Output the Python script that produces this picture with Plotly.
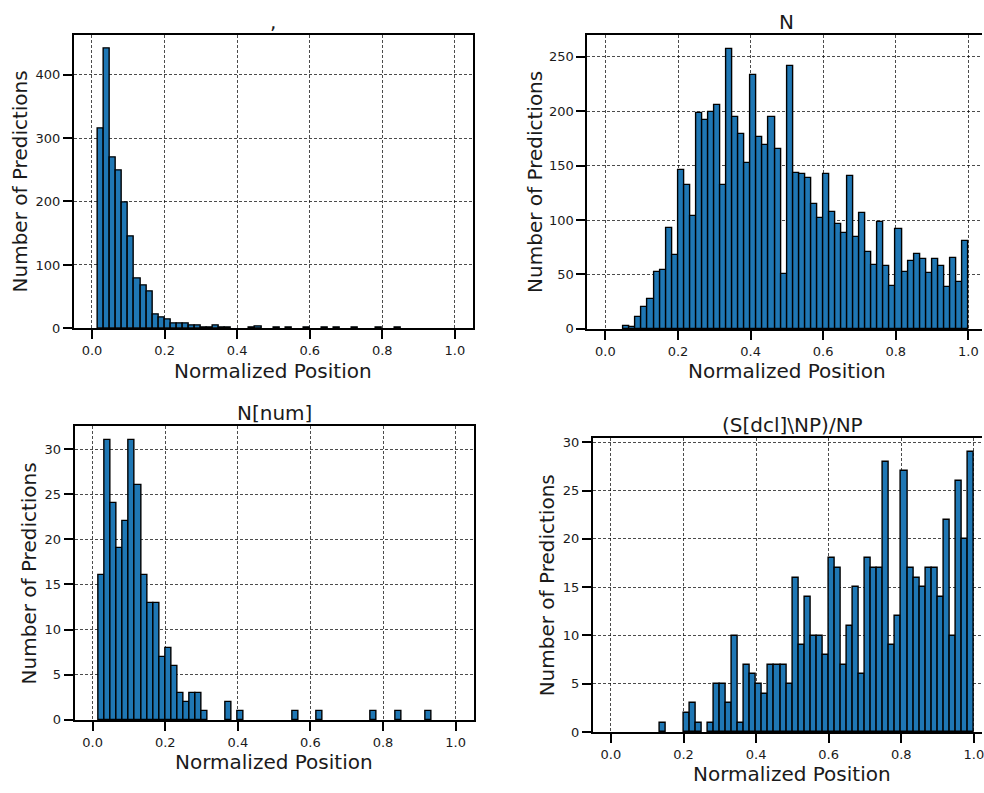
import numpy as np
import plotly.graph_objects as go

# ---------------- data (counts per bin, 60 equal bins on [0, 1]) ----------------
n_bins = 60
bin_edges = np.linspace(0.0, 1.0, n_bins + 1)

titles = [",", "N", "N[num]", "(S[dcl]\\NP)/NP"]

comma_counts = [0, 315, 441, 269, 248, 198, 144, 78, 68, 58,
                22, 17, 14, 7, 7, 7, 4, 4, 2, 2,
                4, 1, 1, 0, 0, 0, 2, 3, 0, 0,
                1, 0, 1, 0, 0, 1, 0, 0, 2, 0,
                1, 0, 0, 1, 0, 0, 0, 1, 0, 0,
                1, 0, 0, 0, 0, 0, 0, 0, 0, 0]

n_counts = [0, 0, 0, 3, 2, 11, 20, 27, 52, 54,
            93, 68, 146, 132, 104, 198, 192, 199, 206, 132,
            257, 195, 179, 152, 233, 176, 169, 195, 165, 50,
            241, 143, 142, 139, 115, 102, 142, 107, 96, 88,
            140, 84, 106, 71, 59, 98, 58, 39, 92, 52,
            62, 69, 64, 51, 64, 58, 38, 65, 43, 81]

nnum_counts = [0, 16, 31, 24, 19, 22, 31, 26, 16, 13,
               13, 7, 8, 6, 3, 2, 3, 3, 1, 0,
               0, 0, 2, 0, 1, 0, 0, 0, 0, 0,
               0, 0, 0, 1, 0, 0, 0, 1, 0, 0,
               0, 0, 0, 0, 0, 0, 1, 0, 0, 0,
               1, 0, 0, 0, 0, 1, 0, 0, 0, 0]

sdcl_counts = [0, 0, 0, 0, 0, 0, 0, 0, 1, 0,
               0, 0, 2, 3, 1, 0, 1, 5, 5, 3,
               10, 1, 7, 6, 5, 4, 7, 7, 7, 5,
               16, 9, 14, 10, 10, 8, 18, 17, 7, 11,
               15, 6, 18, 17, 17, 28, 9, 12, 27, 17,
               16, 15, 17, 17, 14, 22, 10, 26, 20, 29]

x_tick_vals = [0.0, 0.2, 0.4, 0.6, 0.8, 1.0]
y_dticks = [100, 50, 5, 5]

x_label = "Normalized Position"
y_label = "Number of Predictions"

# ---------------- layout geometry (pixels) ----------------
W, H = 984, 793
PX_PER_UNIT = 400 / 1.1
panels = [
    dict(left=74.0, right=474.0, top=32.0, bottom=330.0, ylab_x=21.0),
    dict(left=588.5, right=984.0, top=32.5, bottom=330.5, ylab_x=536.0),
    dict(left=74.7, right=474.7, top=429.0, bottom=727.0, ylab_x=29.5),
    dict(left=594.0, right=984.0, top=441.0, bottom=739.3, ylab_x=548.5),
]
all_counts = [comma_counts, n_counts, nnum_counts, sdcl_counts]

def fx(p):
    return p / W

def fy(p):
    return 1 - p / H

centers = (bin_edges[:-1] + bin_edges[1:]) / 2
width = bin_edges[1] - bin_edges[0]

TEXT = "#1a1a1a"
FONT = "DejaVu Sans"

fig = go.Figure()
annotations = []
layout = dict(
    width=W, height=H,
    margin=dict(l=0, r=0, t=0, b=0),
    paper_bgcolor="white", plot_bgcolor="white",
    showlegend=False, bargap=0,
    font=dict(family=FONT, color=TEXT),
)

for i, (p, counts) in enumerate(zip(panels, all_counts)):
    k = "" if i == 0 else str(i + 1)
    shown = [c if c > 0 else None for c in counts]
    fig.add_trace(go.Bar(
        x=centers, y=shown, width=width,
        marker=dict(color="#1f77b4", line=dict(color="black", width=1.4)),
        xaxis="x" + k, yaxis="y" + k, hoverinfo="x+y",
    ))
    xmax = -0.05 + (p["right"] - p["left"]) / PX_PER_UNIT
    ymax = max(counts) * 1.05
    cut = p["right"] >= W
    common = dict(
        showline=True, linecolor="black", linewidth=2,
        ticks="outside", ticklen=9, tickwidth=2, tickcolor="black",
        tickfont=dict(size=13, color=TEXT, family=FONT),
        showgrid=True, gridcolor="rgba(0,0,0,0.7)", gridwidth=0.6,
        griddash="3px,2px", zeroline=False,
    )
    layout["xaxis" + k] = dict(
        common, domain=[fx(p["left"]), fx(p["right"])],
        range=[-0.05, xmax], anchor="y" + k,
        tickvals=x_tick_vals, tickformat=".1f", mirror=True,
        ticklabeloverflow="allow",
    )
    layout["yaxis" + k] = dict(
        common, domain=[fy(p["bottom"]), fy(p["top"])],
        range=[0, ymax], anchor="x" + k,
        dtick=y_dticks[i], tick0=0, tickformat="d",
        mirror=(not cut),
    )
    cx = (p["left"] + p["left"] + 400) / 2
    annotations.append(dict(
        text=titles[i], x=fx(cx), y=fy(p["top"] - 13), xref="paper", yref="paper",
        showarrow=False, xanchor="center", yanchor="middle",
        font=dict(size=20, color=TEXT, family=FONT),
    ))
    annotations.append(dict(
        text=x_label, x=fx(cx), y=fy(p["bottom"] + 43), xref="paper", yref="paper",
        showarrow=False, xanchor="center", yanchor="middle",
        font=dict(size=20, color=TEXT, family=FONT),
    ))
    annotations.append(dict(
        text=y_label, x=fx(p["ylab_x"]), y=fy((p["top"] + p["bottom"]) / 2),
        xref="paper", yref="paper", textangle=-90,
        showarrow=False, xanchor="center", yanchor="middle",
        font=dict(size=20, color=TEXT, family=FONT),
    ))

layout["annotations"] = annotations
fig.update_layout(**layout)
fig.write_html("out.html")
